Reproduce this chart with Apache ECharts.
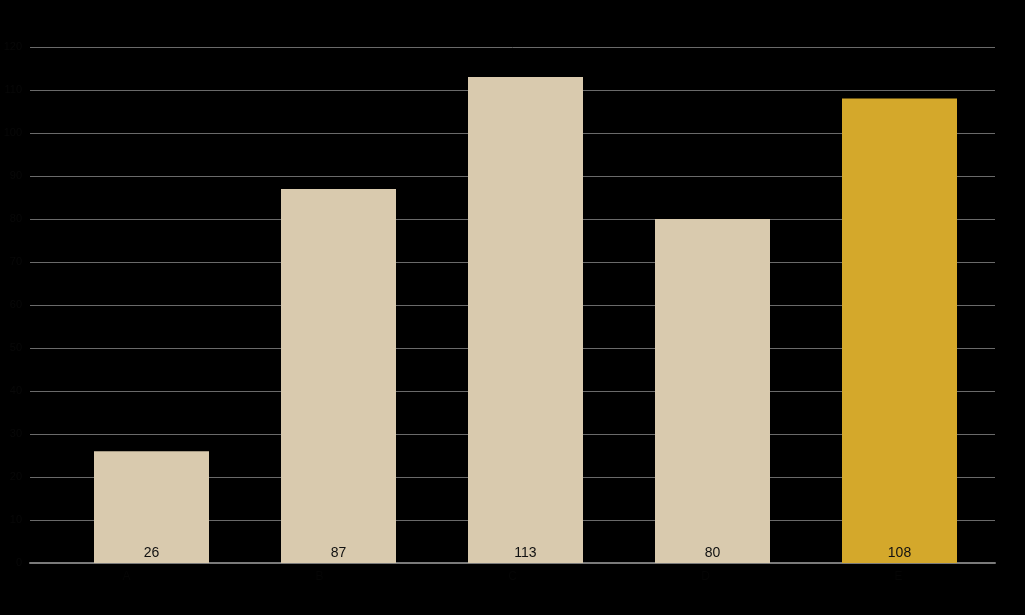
<!DOCTYPE html>
<html><head><meta charset="utf-8">
<script src="https://cdn.jsdelivr.net/npm/echarts@6/dist/echarts.min.js"></script>
<style>html,body{margin:0;padding:0;background:#000;}#c{width:1025px;height:615px;}</style>
</head><body><div id="c"></div>
<script>
const categories = ['A', 'B', 'C', 'D', 'E'];
const values = [26, 87, 113, 80, 108];
const barColors = ['#D9CAAE', '#D9CAAE', '#D9CAAE', '#D9CAAE', '#D4A82B'];
const yTicks = [0, 10, 20, 30, 40, 50, 60, 70, 80, 90, 100, 110, 120];

const chart = echarts.init(document.getElementById('c'));
chart.setOption({
  backgroundColor: '#000',
  animation: false,
  grid: [
    {left: 30, right: 30, top: 47, bottom: 52},
    {left: 58, right: 32, top: 47, bottom: 52}
  ],
  xAxis: [
    {gridIndex: 0, type: 'category', data: categories,
     axisLine: {lineStyle: {color: '#7a7a7a', width: 2}}, axisTick: {show: false},
     axisLabel: {color: '#050505'}},
    {gridIndex: 1, type: 'category', data: categories,
     axisLine: {show: false}, axisTick: {show: false}, axisLabel: {show: false}}
  ],
  yAxis: [
    {gridIndex: 0, type: 'value', min: yTicks[0], max: yTicks[yTicks.length-1], interval: 10,
     splitLine: {lineStyle: {color: '#6a6a6a', width: 1}},
     axisLine: {show: false}, axisTick: {show: false},
     axisLabel: {color: '#080808', fontSize: 11}},
    {gridIndex: 1, type: 'value', min: yTicks[0], max: yTicks[yTicks.length-1], interval: 10,
     splitLine: {show: false}, axisLine: {show: false}, axisTick: {show: false}, axisLabel: {show: false}}
  ],
  series: [{
    type: 'bar', xAxisIndex: 1, yAxisIndex: 1,
    barWidth: 115,
    data: values.map((v, i) => ({value: v, itemStyle: {color: barColors[i]}})),
    label: {show: true, position: 'insideBottom', distance: 3, color: '#111', fontSize: 14, fontFamily: 'Liberation Sans, Arial, sans-serif'}
  }]
});
</script></body></html>
